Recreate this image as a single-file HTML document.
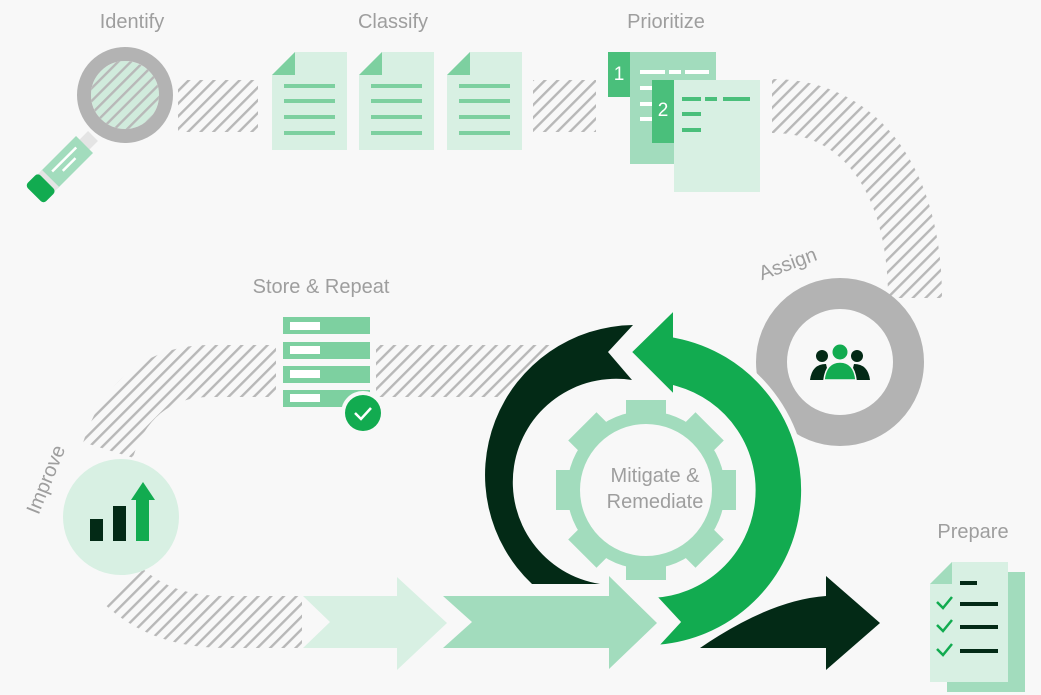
<!DOCTYPE html>
<html><head><meta charset="utf-8"><style>
html,body{margin:0;padding:0;background:#f8f8f8;}
svg{display:block;}
text{font-family:"Liberation Sans",sans-serif;fill:#9e9e9e;}
</style></head><body>
<svg width="1041" height="695" viewBox="0 0 1041 695" xmlns="http://www.w3.org/2000/svg">
<defs>
<pattern id="h" patternUnits="userSpaceOnUse" width="9" height="9" patternTransform="rotate(45)">
<rect x="0" y="0" width="2.4" height="9" fill="#b8b8b8"/>
</pattern>
</defs>
<rect width="1041" height="695" fill="#f8f8f8"/>

<!-- hatched paths -->
<rect x="178" y="80" width="80" height="52" fill="url(#h)"/>
<rect x="533" y="80" width="63" height="52" fill="url(#h)"/>
<path d="M772 106 C860 106 915 180 915 298" fill="none" stroke="url(#h)" stroke-width="54"/>
<path d="M553 371 L210 371 C155 371 122 405 108 450" fill="none" stroke="url(#h)" stroke-width="52"/>
<path d="M302 622 L225 622 C170 622 140 602 122 585" fill="none" stroke="url(#h)" stroke-width="52"/>

<!-- magnifier -->
<g transform="translate(93 136) rotate(45)">
<rect x="-7" y="0" width="14" height="14" fill="#e4e4e4"/>
<rect x="-12" y="12" width="24" height="50" fill="#a2dcbd"/>
<rect x="-12" y="60" width="24" height="6" fill="#e4e4e4"/>
<rect x="-13" y="65" width="26" height="18" rx="4" fill="#12ab50"/>
<rect x="-5" y="20" width="2.5" height="34" fill="#fff" transform="rotate(0)"/>
<rect x="2" y="28" width="2.5" height="18" fill="#fff"/>
</g>
<circle cx="125" cy="95" r="34" fill="#d0ebdc"/>
<circle cx="125" cy="95" r="34" fill="url(#h)"/>
<circle cx="125" cy="95" r="41" fill="none" stroke="#b3b3b3" stroke-width="14"/>

<!-- classify docs -->
<g fill="#d8f0e3">
<path d="M295 52 H347 V150 H272 V75 Z"/>
<path d="M382 52 H434 V150 H359 V75 Z"/>
<path d="M470 52 H522 V150 H447 V75 Z"/>
</g>
<g fill="#7dd0a0">
<path d="M295 52 V75 H272 Z"/><path d="M382 52 V75 H359 Z"/><path d="M470 52 V75 H447 Z"/>
<rect x="284" y="84" width="51" height="4"/><rect x="284" y="99" width="51" height="4"/><rect x="284" y="115" width="51" height="4"/><rect x="284" y="131" width="51" height="4"/>
<rect x="371" y="84" width="51" height="4"/><rect x="371" y="99" width="51" height="4"/><rect x="371" y="115" width="51" height="4"/><rect x="371" y="131" width="51" height="4"/>
<rect x="459" y="84" width="51" height="4"/><rect x="459" y="99" width="51" height="4"/><rect x="459" y="115" width="51" height="4"/><rect x="459" y="131" width="51" height="4"/>
</g>

<!-- prioritize -->
<rect x="630" y="52" width="86" height="112" fill="#a2dcbd"/>
<rect x="608" y="52" width="22" height="45" fill="#4abf7b"/>
<text x="619" y="80" text-anchor="middle" font-size="19" style="fill:#fff">1</text>
<g fill="#fff"><rect x="640" y="70" width="25" height="4"/><rect x="669" y="70" width="12" height="4"/><rect x="685" y="70" width="24" height="4"/>
<rect x="640" y="86" width="14" height="4"/><rect x="640" y="102" width="14" height="4"/><rect x="640" y="117" width="14" height="4"/></g>
<rect x="674" y="80" width="86" height="112" fill="#d8f0e3"/>
<rect x="652" y="80" width="22" height="63" fill="#4abf7b"/>
<text x="663" y="116" text-anchor="middle" font-size="19" style="fill:#fff">2</text>
<g fill="#4abf7b"><rect x="682" y="97" width="19" height="4"/><rect x="705" y="97" width="12" height="4"/><rect x="723" y="97" width="27" height="4"/>
<rect x="682" y="112" width="19" height="4"/><rect x="682" y="128" width="19" height="4"/></g>

<!-- store icon -->
<rect x="276" y="310" width="100" height="104" fill="#f8f8f8"/>
<g fill="#7dd0a0"><rect x="283" y="317" width="87" height="17"/><rect x="283" y="342" width="87" height="17"/><rect x="283" y="366" width="87" height="17"/><rect x="283" y="390" width="87" height="17"/></g>
<g fill="#fff"><rect x="290" y="322" width="30" height="8"/><rect x="290" y="346" width="30" height="8"/><rect x="290" y="370" width="30" height="8"/><rect x="290" y="394" width="30" height="8"/></g>
<circle cx="363" cy="413" r="22" fill="#f8f8f8"/>
<circle cx="363" cy="413" r="18" fill="#12ab50"/>
<path d="M355 413 L361 419 L371 408" fill="none" stroke="#fff" stroke-width="2.5"/>

<!-- improve -->
<circle cx="121" cy="517" r="58" fill="#d8f0e3"/>
<rect x="90" y="519" width="13" height="22" fill="#032a16"/>
<rect x="113" y="506" width="13" height="35" fill="#032a16"/>
<rect x="136" y="498" width="13" height="43" fill="#12ab50"/>
<path d="M131 500 L143 482 L155 500 Z" fill="#12ab50"/>

<!-- chevrons -->
<path d="M303 596 L397 596 L397 577 L447 623 L397 670 L397 648 L303 648 L330 622 Z" fill="#d8f0e3"/>
<path d="M443 596 L609 596 L609 576 L657 623 L609 669 L609 648 L443 648 L472 622 Z" fill="#a2dcbd"/>

<!-- assign ring -->
<circle cx="840" cy="362" r="68.5" fill="none" stroke="#b3b3b3" stroke-width="31"/>
<g fill="#032a16"><circle cx="822" cy="356" r="6"/><circle cx="857" cy="356" r="6"/>
<path d="M810 380 Q812 364 826 364 L830 380 Z"/><path d="M870 380 Q868 364 854 364 L850 380 Z"/></g>
<circle cx="840" cy="352" r="7.5" fill="#12ab50"/>
<path d="M824 380 Q826 362 840 362 Q854 362 856 380 Z" fill="#12ab50" stroke="#f8f8f8" stroke-width="1.5"/>

<!-- gear -->
<g fill="#a2dcbd" transform="translate(646 490)">
<circle r="79"/>
<g id="t"><rect x="-20" y="-90" width="40" height="25"/><rect x="-20" y="65" width="40" height="25"/></g>
<use href="#t" transform="rotate(45)"/><use href="#t" transform="rotate(90)"/><use href="#t" transform="rotate(135)"/>
<circle r="66" fill="#f8f8f8"/>
</g>
<text x="655" y="482" text-anchor="middle" font-size="20">Mitigate &amp;</text>
<text x="655" y="508" text-anchor="middle" font-size="20">Remediate</text>

<!-- cycle arrows -->
<path d="M532 584 A150 150 0 0 1 633 325 L608 352 L632 380 A100 100 0 0 0 600 584 Z" fill="#032a16"/>
<path d="M676 305 L628 352 L676 400 L676 389 A105 105 0 0 1 652 595 L677 622 L653 648 A158 158 0 0 0 676 335 Z" fill="#12ab50" stroke="#f8f8f8" stroke-width="6" stroke-linejoin="miter"/>
<path d="M700 648 Q770 600 826 596 L826 576 L880 623 L826 670 L826 648 Z" fill="#032a16"/>

<!-- prepare -->
<rect x="947" y="572" width="78" height="120" fill="#a2dcbd"/>
<path d="M952 562 H1008 V682 H930 V584 Z" fill="#d8f0e3"/>
<path d="M952 562 V584 H930 Z" fill="#a2dcbd"/>
<g fill="#032a16"><rect x="960" y="581" width="17" height="4"/><rect x="960" y="602" width="38" height="4"/><rect x="960" y="625" width="38" height="4"/><rect x="960" y="649" width="38" height="4"/></g>
<g fill="none" stroke="#12ab50" stroke-width="2.5"><path d="M937 602 L943 608 L952 597"/><path d="M937 625 L943 631 L952 620"/><path d="M937 649 L943 655 L952 644"/></g>

<!-- labels -->
<text x="132" y="28" text-anchor="middle" font-size="20">Identify</text>
<text x="393" y="28" text-anchor="middle" font-size="20">Classify</text>
<text x="666" y="28" text-anchor="middle" font-size="20">Prioritize</text>
<text x="321" y="293" text-anchor="middle" font-size="20">Store &amp; Repeat</text>
<text x="973" y="538" text-anchor="middle" font-size="20">Prepare</text>
<text x="790" y="270" text-anchor="middle" font-size="20" transform="rotate(-20 790 270)">Assign</text>
<text x="52" y="482" text-anchor="middle" font-size="20" transform="rotate(-68 52 482)">Improve</text>
</svg>
</body></html>
